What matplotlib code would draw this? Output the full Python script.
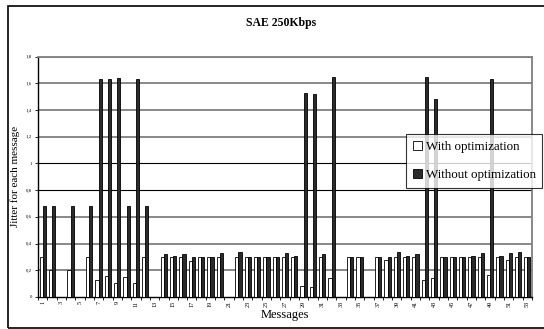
import matplotlib.pyplot as plt
from matplotlib.patches import Rectangle, Patch
import numpy as np

# jitter per message (0 = no bar)
messages = list(range(1, 54))
with_opt = [0.30, 0.20, 0, 0.20, 0, 0.30, 0.13, 0.155, 0.105, 0.15,
            0.105, 0.30, 0, 0.30, 0.30, 0.30, 0.27, 0.30, 0.30, 0.30,
            0, 0.30, 0.30, 0.30, 0.30, 0.30, 0.30, 0.30, 0.08, 0.075,
            0.30, 0.145, 0, 0.30, 0.30, 0, 0.30, 0.275, 0.30, 0.30,
            0.30, 0.125, 0.14, 0.30, 0.30, 0.30, 0.30, 0.30, 0.165, 0.30,
            0.28, 0.30, 0.30]
without_opt = [0.68, 0.68, 0, 0.68, 0, 0.68, 1.63, 1.63, 1.64, 0.68,
               1.63, 0.68, 0, 0.325, 0.31, 0.32, 0.30, 0.30, 0.30, 0.33,
               0, 0.34, 0.30, 0.30, 0.30, 0.30, 0.33, 0.31, 1.53, 1.52,
               0.32, 1.65, 0, 0.30, 0.30, 0, 0.30, 0.30, 0.34, 0.31,
               0.32, 1.65, 1.48, 0.30, 0.30, 0.30, 0.31, 0.33, 1.63, 0.31,
               0.33, 0.34, 0.30]
y_ticks = [0, 0.2, 0.4, 0.6, 0.8, 1.0, 1.2, 1.4, 1.6, 1.8]
y_labels = ["0", "0,2", "0,4", "0,6", "0,8", "1", "1,2", "1,4", "1,6", "1,8"]

plt.rcParams['font.family'] = ['Liberation Serif', 'DejaVu Serif']

fig = plt.figure(figsize=(5.44, 3.29), dpi=100)
ax = fig.add_axes([0.0699, 0.0973, 0.908, 0.7304])

# outer chart frame
fig.patches.append(Rectangle((8 / 544, 1 - 328 / 329), 0.99, (328 - 6) / 329,
                             transform=fig.transFigure, fill=False,
                             edgecolor='black', linewidth=1.2))

x = np.arange(len(messages))
w = 0.34
ax.bar(x - w / 2, with_opt, w, color='white', edgecolor='black',
       linewidth=0.6, zorder=3)
ax.bar(x + w / 2, without_opt, w, color='#2b2b2b', edgecolor='black',
       linewidth=0.6, zorder=3)

ax.set_xlim(-0.5, len(messages) - 0.5)
ax.set_ylim(0, 1.8)

# gridlines
for yv in y_ticks[1:]:
    col = 'black' if yv in (0.8, 1.0) else '#7f7f7f'
    lw = 0.8 if yv in (0.8, 1.0) else 1.3
    ax.axhline(yv, color=col, linewidth=lw, zorder=1)

ax.set_yticks(y_ticks)
ax.set_yticklabels(y_labels, fontsize=3.5)
ax.set_xticks(x[::2])
ax.set_xticklabels([str(m) for m in messages[::2]], fontsize=4.5, rotation=90)
ax.set_xticks(np.arange(-0.5, len(messages), 1), minor=True)
ax.tick_params(axis='x', which='major', length=0, pad=3)
ax.tick_params(axis='x', which='minor', length=2.5, width=0.6, direction='out')
ax.tick_params(axis='y', length=2.5, width=0.6, pad=2)

for side in ('top', 'right'):
    ax.spines[side].set_color('#7f7f7f')
    ax.spines[side].set_linewidth(1.3)
ax.spines['left'].set_linewidth(1.0)
ax.spines['bottom'].set_linewidth(1.0)

ax.set_xlabel("Messages", fontsize=9, labelpad=1)
ax.set_ylabel("Jitter for each message", fontsize=8, labelpad=4)
fig.text(0.516, 0.93, "SAE 250Kbps", fontsize=8.5, fontweight='bold',
         ha='center', va='center')

handles = [Patch(facecolor='white', edgecolor='black', linewidth=0.6),
           Patch(facecolor='#2b2b2b', edgecolor='black', linewidth=0.6)]
leg = fig.legend(handles, ["With optimization", "Without optimization"],
                 loc='upper left', bbox_to_anchor=(406 / 544, 1 - 134 / 329),
                 fontsize=9.4, frameon=True, fancybox=False, borderpad=0.5,
                 labelspacing=1.25, handlelength=0.7, handleheight=0.7,
                 handletextpad=0.3, borderaxespad=0)
leg.get_frame().set_edgecolor('black')
leg.get_frame().set_linewidth(0.8)

fig.savefig("out.png", dpi=100)
